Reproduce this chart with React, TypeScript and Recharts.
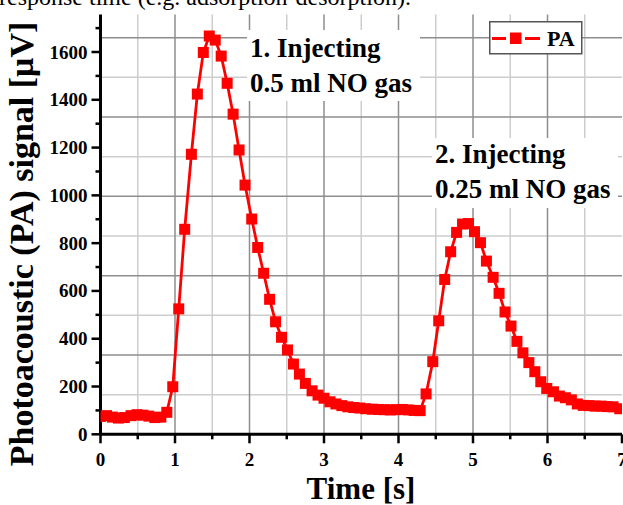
import React from 'react';
import { LineChart, Line, XAxis, YAxis, ReferenceLine, Legend } from 'recharts';

// ---- data ----
const timeS = [
  0.0, 0.08, 0.16, 0.24, 0.32, 0.41, 0.49, 0.57, 0.65, 0.73, 0.81, 0.89,
  0.97, 1.05, 1.13, 1.22, 1.3, 1.38, 1.46, 1.54, 1.62, 1.7, 1.78, 1.86,
  1.94, 2.03, 2.11, 2.19, 2.27, 2.35, 2.43, 2.51, 2.59, 2.67, 2.75, 2.84,
  2.92, 3.0, 3.08, 3.16, 3.24, 3.32, 3.4, 3.48, 3.56, 3.65, 3.73, 3.81,
  3.89, 3.97, 4.05, 4.13, 4.21, 4.29, 4.37, 4.46, 4.54, 4.62, 4.7, 4.78,
  4.86, 4.94, 5.02, 5.1, 5.18, 5.27, 5.35, 5.43, 5.51, 5.59, 5.67, 5.75,
  5.83, 5.91, 5.99, 6.08, 6.16, 6.24, 6.32, 6.4, 6.48, 6.56, 6.64, 6.72,
  6.8, 6.88, 6.97,
];
const paSignal = [
  75, 78, 72, 68, 70, 78, 82, 80, 76, 70, 72, 92,
  199, 525, 858, 1172, 1424, 1598, 1667, 1650, 1583, 1469, 1340, 1190,
  1043, 901, 782, 674, 565, 471, 406, 353, 294, 252, 213, 182,
  164, 151, 136, 127, 120, 115, 112, 110, 107, 105, 104, 103,
  102, 103, 104, 102, 100, 99, 169, 304, 475, 648, 764, 845,
  880, 882, 848, 802, 725, 657, 590, 512, 453, 389, 341, 300,
  262, 220, 192, 178, 160, 153, 144, 127, 121, 120, 118, 118,
  116, 115, 107,
];
const seriesName = 'PA';
const xTicks = [0, 0.5, 1, 1.5, 2, 2.5, 3, 3.5, 4, 4.5, 5, 5.5, 6, 6.5, 7];
const yTicks = [0, 100, 200, 300, 400, 500, 600, 700, 800, 900, 1000, 1100, 1200, 1300, 1400, 1500, 1600, 1700];
const gridXMinor = [0.5, 1.5, 2.5, 3.5, 4.5, 5.5, 6.5];
const gridXMajor = [1, 2, 3, 4, 5, 6];
const gridYMinor = [166, 498, 830, 1162, 1494];
const gridYMajor = [332, 664, 996, 1328, 1660];
const xTitle = 'Time [s]';
const yTitle = 'Photoacoustic (PA) signal [\u03bcV]';
const headerText = 'response time (e.g. adsorption-desorption).';
const note1 = ['1. Injecting', '0.5 ml NO gas'];
const note2 = ['2. Injecting', '0.25 ml NO gas'];

const data = timeS.map((t, i) => ({ t, pa: paSignal[i] }));

const FONT = "'Liberation Serif', 'Times New Roman', serif";
const RED = '#ff0000';
const MAJOR_GRID = '#8e8e8e';
const MINOR_GRID = '#cdcdcd';
const boldText = { fontFamily: FONT, fontWeight: 700 as const };

const XTick = (props: any) => {
  const { x, y, payload } = props;
  const v = payload.value;
  const major = Number.isInteger(v);
  return (
    <g>
      <line x1={x} y1={y} x2={x} y2={y + (major ? 9 : 5)} stroke="#000" strokeWidth={2.5} />
      {major && (
        <text x={x} y={y + 31.5} textAnchor="middle" style={{ ...boldText, fontSize: 19 }} fill="#000">
          {v}
        </text>
      )}
    </g>
  );
};

const YTick = (props: any) => {
  const { x, y, payload } = props;
  const v = payload.value;
  const major = v % 200 === 0;
  return (
    <g>
      <line x1={x - (major ? 9 : 5)} y1={y} x2={x} y2={y} stroke="#000" strokeWidth={2.5} />
      {major && (
        <text x={x - 13} y={y + 6.5} textAnchor="end" style={{ ...boldText, fontSize: 19 }} fill="#000">
          {v}
        </text>
      )}
    </g>
  );
};

const SquareDot = (props: any) => {
  const { cx, cy, index } = props;
  if (cx == null || cy == null) return <g key={`d${index}`} />;
  return <rect key={`d${index}`} x={cx - 5.5} y={cy - 5.5} width={11} height={11} fill={RED} />;
};

const LegendBox = () => (
  <svg width={94} height={34} style={{ display: 'block' }}>
    <rect x={0.75} y={0.75} width={92} height={32} fill="#fff" stroke="#555" strokeWidth={1.5} />
    <line x1={3} y1={17.5} x2={17} y2={17.5} stroke={RED} strokeWidth={3} />
    <line x1={36} y1={17.5} x2={51} y2={17.5} stroke={RED} strokeWidth={3} />
    <rect x={21} y={11.5} width={11.5} height={11.5} fill={RED} />
    <text x={58} y={25} style={{ ...boldText, fontSize: 22 }} fill="#000">
      {seriesName}
    </text>
  </svg>
);

export default function App() {
  return (
    <div style={{ position: 'absolute', left: 0, top: 0, width: 623, height: 505, background: '#fff', overflow: 'hidden' }}>
      <LineChart
        width={623}
        height={505}
        data={data}
        margin={{ top: 14.5, right: 1, bottom: 0, left: 0 }}
      >
        <XAxis
          dataKey="t"
          type="number"
          domain={[0, 7]}
          ticks={xTicks}
          interval={0}
          allowDataOverflow
          height={70.7}
          tickSize={0}
          tickMargin={0}
          tickLine={false}
          tick={<XTick />}
          axisLine={{ stroke: '#000', strokeWidth: 3 }}
        />
        <XAxis
          xAxisId="top"
          orientation="top"
          type="number"
          domain={[0, 7]}
          height={0}
          tick={false}
          tickLine={false}
          axisLine={{ stroke: '#000', strokeWidth: 3 }}
        />
        <YAxis
          type="number"
          domain={[0, 1757]}
          ticks={yTicks}
          interval={0}
          allowDataOverflow
          width={100.5}
          tickSize={0}
          tickMargin={0}
          tickLine={false}
          tick={<YTick />}
          axisLine={{ stroke: '#000', strokeWidth: 3 }}
        />
        <YAxis
          yAxisId="right"
          orientation="right"
          type="number"
          domain={[0, 1757]}
          width={0}
          tick={false}
          tickLine={false}
          axisLine={{ stroke: '#000', strokeWidth: 3 }}
        />
        {gridXMinor.map((v) => (
          <ReferenceLine key={`xm${v}`} x={v} stroke={MINOR_GRID} strokeWidth={1.5} />
        ))}
        {gridYMinor.map((v) => (
          <ReferenceLine key={`ym${v}`} y={v} stroke={MINOR_GRID} strokeWidth={1.5} />
        ))}
        {gridXMajor.map((v) => (
          <ReferenceLine key={`xM${v}`} x={v} stroke={MAJOR_GRID} strokeWidth={1.5} />
        ))}
        {gridYMajor.map((v) => (
          <ReferenceLine key={`yM${v}`} y={v} stroke={MAJOR_GRID} strokeWidth={1.5} />
        ))}
        <Legend
          layout="vertical"
          align="center"
          verticalAlign="middle"
          content={() => <LegendBox />}
          wrapperStyle={{ position: 'absolute', left: 489, top: 21, width: 94, height: 34 }}
        />
        <Line
          dataKey="pa"
          name={seriesName}
          stroke={RED}
          strokeWidth={2.8}
          dot={(p: any) => <SquareDot {...p} />}
          activeDot={false}
          isAnimationActive={false}
        />
      </LineChart>
      <svg
        width={623}
        height={505}
        style={{ position: 'absolute', left: 0, top: 0, pointerEvents: 'none' }}
      >
        <text x={-1} y={5} style={{ fontFamily: FONT, fontSize: 24 }} fill="#000">
          {headerText}
        </text>
        <rect x={247} y={30} width={173} height={71} fill="#fff" />
        <text x={250} y={57} style={{ ...boldText, fontSize: 27 }} fill="#000">
          {note1[0]}
        </text>
        <text x={250} y={92} style={{ ...boldText, fontSize: 27 }} fill="#000">
          {note1[1]}
        </text>
        <rect x={432} y={138} width={186} height={70} fill="#fff" />
        <text x={435} y={163} style={{ ...boldText, fontSize: 27 }} fill="#000">
          {note2[0]}
        </text>
        <text x={435} y={198} style={{ ...boldText, fontSize: 27 }} fill="#000">
          {note2[1]}
        </text>
        <text x={361} y={499} textAnchor="middle" style={{ ...boldText, fontSize: 31 }} fill="#000">
          {xTitle}
        </text>
        <text
          x={0}
          y={0}
          transform="translate(33,244) rotate(-90)"
          textAnchor="middle"
          style={{ ...boldText, fontSize: 34 }}
          fill="#000"
        >
          {yTitle}
        </text>
      </svg>
    </div>
  );
}
